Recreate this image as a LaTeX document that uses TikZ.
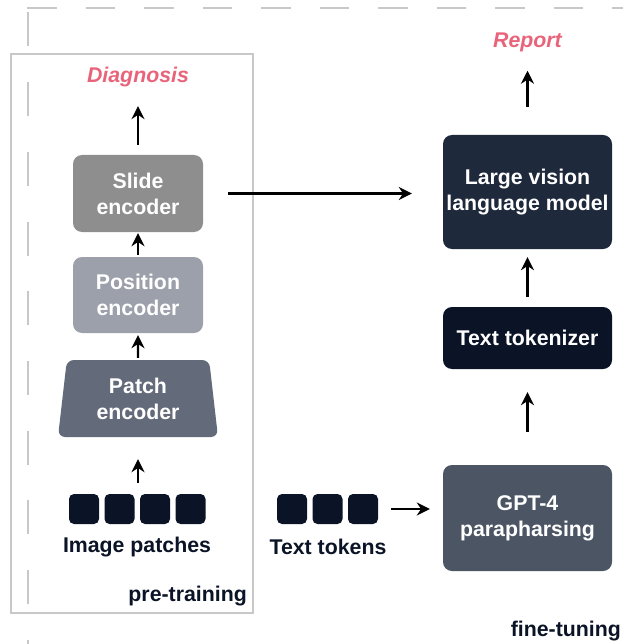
\documentclass[tikz,border=0pt]{standalone}
\usepackage{fontspec}
\setmainfont{Liberation Sans}
\usetikzlibrary{positioning, arrows.meta, shapes.geometric}

\definecolor{slidegray}{HTML}{8E8E8E}
\definecolor{posgray}{HTML}{9CA0AA}
\definecolor{patchgray}{HTML}{636B7A}
\definecolor{gptgray}{HTML}{4B5563}
\definecolor{lvlmnavy}{HTML}{1E293B}
\definecolor{inknavy}{HTML}{0B1426}
\definecolor{outred}{HTML}{E8647A}
\definecolor{framegray}{HTML}{C8C8C8}

\begin{document}
\begin{tikzpicture}[
    x=1pt, y=-1pt,
    font=\fontsize{21.3}{26}\selectfont\bfseries,
    block/.style={
        rounded corners=9pt, text=white, align=center,
        inner sep=0pt,
    },
    enc/.style={block, minimum width=130pt, minimum height=77pt},
    lm/.style={block, minimum width=169pt},
    patchbox/.style={
        trapezium, trapezium stretches body, rounded corners=7pt,
        trapezium left angle=78, trapezium right angle=78,
        fill=patchgray, text=white, align=center, inner sep=0pt,
        minimum width=160pt, minimum height=77pt,
    },
    sq/.style={
        fill=inknavy, rounded corners=5pt,
        minimum size=30pt, inner sep=0pt,
    },
    outtxt/.style={text=outred, font=\fontsize{21.3}{24}\selectfont\bfseries\itshape, inner sep=0pt},
    tag/.style={text=inknavy, inner sep=0pt},
    arr/.style={-{Stealth[length=13pt, width=13pt]}, line width=2.4pt},
    frame/.style={draw=framegray, line width=2.8pt},
]

\def\colL{138}
\def\colR{527.5}

\useasboundingbox (0,0) rectangle (623,644);

% frames
\draw[frame, dash pattern=on 29.5pt off 29pt] (27,8) -- (623,8);
\draw[frame, dash pattern=on 34pt off 35.7pt] (28,12.5) -- (28,644);
\draw[frame, line width=2.5pt] (11,54) rectangle (253,613);

% pre-training column
\node[outtxt] (diag) at (\colL,77) {Diagnosis};
\node[enc, fill=slidegray] (slide) at (\colL,193.5) {Slide\\encoder};
\node[enc, fill=posgray, minimum height=76pt] (pos) at (\colL,295) {Position\\encoder};
\node[patchbox] (patch) at (\colL,398.5) {Patch\\encoder};

\foreach \i in {1,...,4}
    \node[sq] (ip\i) at ({84+35.5*(\i-1)},509) {};
\node[tag] (iplbl) at (137,547) {Image patches};

% fine-tuning column
\node[outtxt] (report) at (\colR,42) {Report};
\node[lm, fill=lvlmnavy, minimum height=114pt] (lvlm) at (\colR,192) {Large vision\\language model};
\node[lm, fill=inknavy, minimum height=62pt] (tok) at (\colR,338) {Text tokenizer};
\node[lm, fill=gptgray, minimum height=106pt] (gpt) at (\colR,518) {GPT-4\\parapharsing};

\foreach \i in {1,...,3}
    \node[sq] (tt\i) at ({292+35.5*(\i-1)},509) {};
\node[tag] (ttlbl) at (328,547) {Text tokens};

% stage labels
\node[tag, anchor=east] (pretr) at (247,596) {pre-training};
\node[tag, anchor=east] (finetu) at (621,631) {fine-tuning};

% arrows
\draw[arr, shorten <=10pt, shorten >=19pt] (slide.north) -- (slide.north |- diag.south);
\draw[arr, shorten <=2pt, shorten >=1pt] (pos) -- (slide);
\draw[arr, shorten <=2pt, shorten >=2pt] (patch) -- (pos);
\draw[arr, shorten <=11pt, shorten >=22pt] (patch.south |- ip2.north) -- (patch.south);
\draw[arr, shorten <=25pt, shorten >=31pt] (slide.east) -- (slide.east -| lvlm.west);
\draw[arr, shorten <=13pt, shorten >=13pt] (tt3.east) -- (tt3.east -| gpt.west);
\draw[arr, shorten <=33pt, shorten >=23pt] (gpt) -- (tok);
\draw[arr, shorten <=10pt, shorten >=8pt] (tok) -- (lvlm);
\draw[arr, shorten <=28pt, shorten >=19pt] (lvlm.north) -- (lvlm.north |- report.south);

\end{tikzpicture}
\end{document}
